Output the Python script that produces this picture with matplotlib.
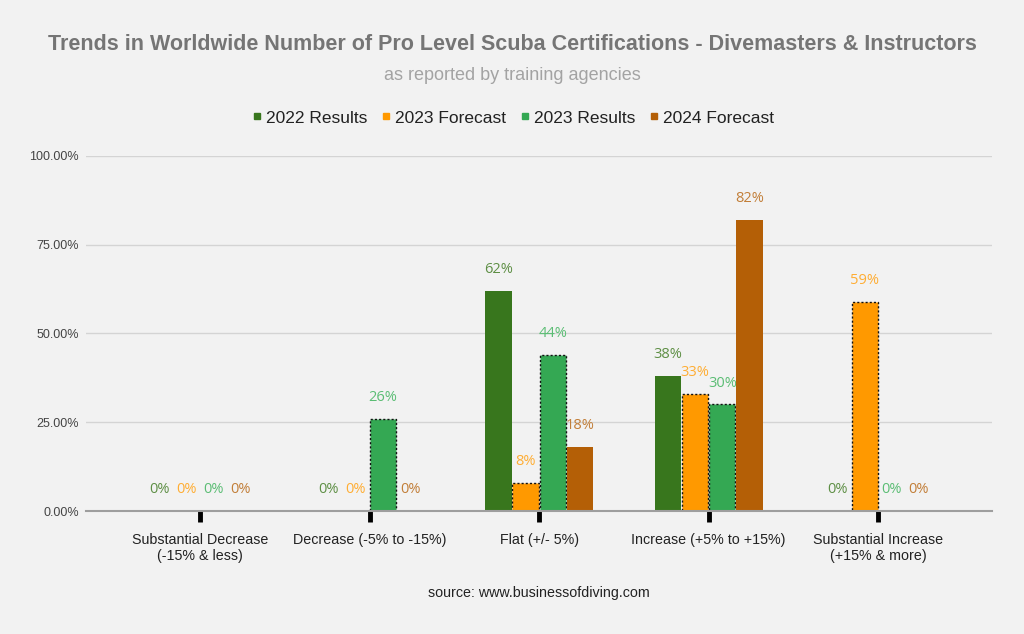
import numpy as np
import matplotlib
matplotlib.use('Agg')
import matplotlib.pyplot as plt
from matplotlib.lines import Line2D

plt.rcParams['font.family'] = ['Liberation Sans', 'DejaVu Sans']

categories = ['Substantial Decrease\n(-15% & less)', 'Decrease (-5% to -15%)',
              'Flat (+/- 5%)', 'Increase (+5% to +15%)',
              'Substantial Increase\n(+15% & more)']
series_names = ['2022 Results', '2023 Forecast', '2023 Results', '2024 Forecast']
results_2022 = [0, 0, 62, 38, 0]
forecast_2023 = [0, 0, 8, 33, 59]
results_2023 = [0, 26, 44, 30, 0]
forecast_2024 = [0, 0, 18, 82, 0]
yticks = [0, 25, 50, 75, 100]

series = [results_2022, forecast_2023, results_2023, forecast_2024]
bar_colors = ['#38761d', '#ff9900', '#34a853', '#b45f06']
label_colors = ['#5e8f45', '#ffad33', '#5bbd74', '#c27e38']
dotted = [False, True, True, False]

bg = '#f2f2f2'
fig = plt.figure(figsize=(10.24, 6.34), dpi=100, facecolor=bg)
ax = fig.add_axes([0.084, 0.194, 0.885, 0.56], facecolor=bg)

x = np.arange(len(categories))
width = 0.16
for i, vals in enumerate(series):
    pos = x + (i - 1.5) * width
    if dotted[i]:
        ax.bar(pos, vals, width * 0.97, color=bar_colors[i], edgecolor='#111111',
               linewidth=1.0, linestyle=(0, (1.5, 1.5)), zorder=3)
    else:
        ax.bar(pos, vals, width * 0.97, color=bar_colors[i], edgecolor='none', zorder=3)
    for xp, v in zip(pos, vals):
        ax.annotate('{}%'.format(v), (xp, v), xytext=(0, 10), textcoords='offset points',
                    ha='center', va='bottom', fontsize=10.5, color=label_colors[i],
                    family=['Open Sans', 'DejaVu Sans'])

ax.set_xlim(-0.672, 4.672)
ax.set_ylim(0, 100)
ax.set_yticks(yticks)
ax.set_yticklabels(['{:.2f}%'.format(t) for t in yticks])
ax.set_xticks(x)
ax.set_xticklabels(categories, fontsize=10.3, color='#222222')
ax.tick_params(axis='y', length=0, pad=5, labelsize=9, labelcolor='#444444')
ax.tick_params(axis='x', length=8, width=3.5, color='black', pad=8)
ax.grid(axis='y', color='#d4d4d4', linewidth=1, zorder=0)
for s in ['top', 'right', 'left']:
    ax.spines[s].set_visible(False)
ax.spines['bottom'].set_color('#9e9e9e')
ax.spines['bottom'].set_linewidth(1.5)
ax.spines['bottom'].set_zorder(4)

fig.text(0.5, 0.930, 'Trends in Worldwide Number of Pro Level Scuba Certifications - Divemasters & Instructors',
         ha='center', va='center', fontsize=15.5, fontweight='bold', color='#757575')
fig.text(0.5, 0.881, 'as reported by training agencies', ha='center', va='center',
         fontsize=13, color='#a3a3a3')

handles = [Line2D([], [], marker='s', linestyle='none', markersize=5,
                  markerfacecolor=c, markeredgecolor=c) for c in bar_colors]
fig.legend(handles, series_names, loc='center', bbox_to_anchor=(0.5, 0.814), ncol=4,
           frameon=False, fontsize=12.5, handletextpad=0.1, columnspacing=0.7,
           handlelength=0.8, labelcolor='#222222')

fig.text(0.526, 0.065, 'source: www.businessofdiving.com', ha='center', va='center',
         fontsize=10.3, color='#222222')

fig.savefig('out.png', dpi=100, facecolor=bg)
